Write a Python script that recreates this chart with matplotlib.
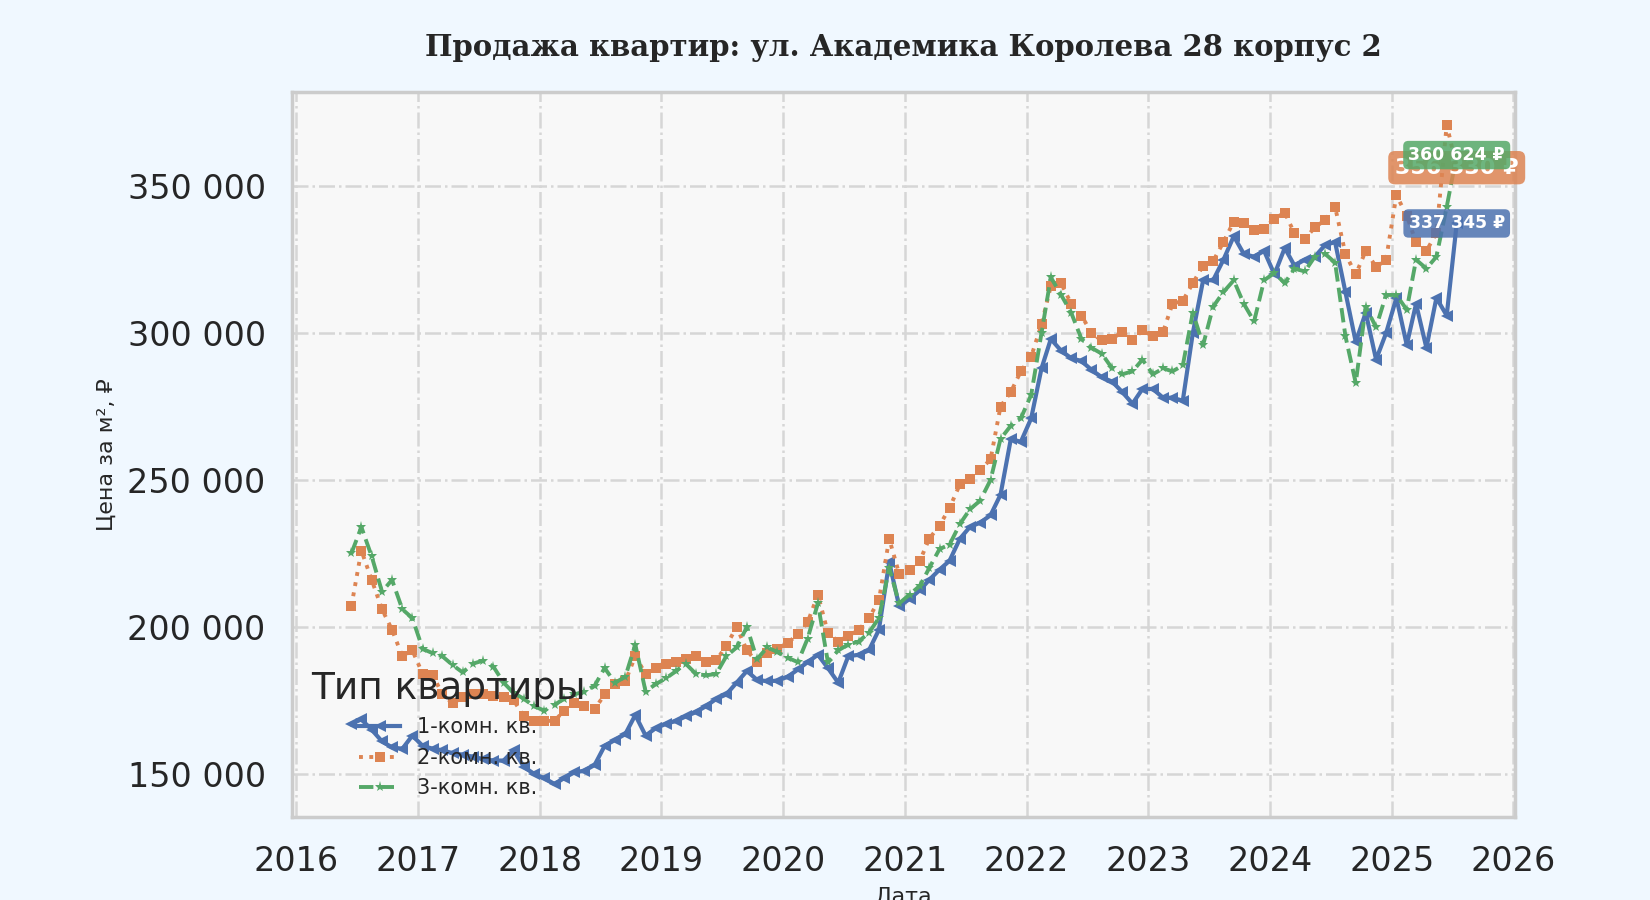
import numpy as np
import pandas as pd
import matplotlib
matplotlib.use("Agg")
import matplotlib.pyplot as plt
import matplotlib.dates as mdates
from matplotlib.ticker import MultipleLocator, FuncFormatter

# ---------------- data (price per m², thousands of rubles, monthly) ----------------
months = pd.date_range("2016-06-01", "2025-07-01", freq="MS") + pd.Timedelta(days=14)

room1 = [
    167, 168.5, 165, 161, 159, 158.5, 163,
    159.5, 158.5, 158, 157, 156.5, 155.8, 155, 154.5, 154.5, 158, 152.3, 150,
    148.5, 146.5, 148.5, 150.5, 151, 153, 159.5, 161.5, 163.5, 170, 163, 165.5,
    167, 168, 169.5, 171, 173, 175.5, 177, 181, 185, 182, 181.5, 181.7,
    183, 185.5, 188, 190.5, 186, 181, 190, 190.5, 192, 199, 222, 207,
    209.5, 212.5, 216, 219.5, 222.5, 230, 234, 235.5, 238, 245, 264, 263,
    271, 288, 298, 294, 291.5, 290.5, 287.5, 285, 283.5, 280, 276, 281,
    281, 278, 278, 277, 300, 318, 318, 325, 333, 327, 326, 328,
    320, 329, 323, 325, 326, 330, 331, 314, 297, 307, 291, 300,
    312, 296, 310, 295, 312, 306, 337.345,
]
room2 = [
    207, 226, 216, 206, 199, 190, 192,
    184, 183.5, 177, 174, 176, 177, 177, 176.5, 176, 175, 169.5, 168,
    168, 168, 171.5, 174, 173, 172, 177, 180.5, 181.5, 190, 184, 186,
    187.5, 188, 189, 190, 188, 188.6, 193.5, 200, 192, 188, 191, 192.5,
    194.5, 197.5, 201.5, 211, 198, 195, 197, 198.9, 203, 209, 230, 218,
    219.5, 222.5, 230, 234.5, 240.5, 248.5, 250.5, 253.5, 257, 275, 280, 287,
    292, 303, 316, 317, 310, 306, 300, 297.5, 298, 300.5, 297.5, 301,
    299, 300.5, 310, 311, 317, 323, 324.5, 331, 338, 337.5, 335, 335.5,
    339, 341, 334, 332, 336, 338.5, 343, 327, 320, 328, 322.5, 325,
    347, 340, 331, 328, 334, 371, 356.33,
]
room3 = [
    225, 234, 224, 212, 216, 206, 203,
    192.5, 191, 190, 187, 184.5, 187.5, 188.5, 186.5, 181, 177.5, 175.5, 173,
    171.5, 173.5, 175.5, 177, 178, 180, 186, 181, 183, 194, 178, 180.5,
    182.5, 185, 187.5, 184, 183.5, 184, 190, 193, 200, 189, 193, 191.5,
    189.5, 188, 196, 208, 188, 192, 194, 195, 198, 203, 220, 208,
    211, 214, 220, 226.5, 228, 235, 240, 243, 250, 264, 268.5, 271,
    279, 300, 319, 313, 307, 298, 295, 293, 288, 286, 287, 291,
    286, 288, 287, 289, 307, 296, 309, 314, 318, 310, 304, 318,
    320.5, 317, 322, 321, 326, 327, 324, 299, 283, 309, 302, 313,
    313, 308, 325, 322, 326, 343, 360.624,
]
series_labels = ["1-комн. кв.", "2-комн. кв.", "3-комн. кв."]
colors = ["#4C72B0", "#DD8452", "#55A868"]

# ---------------- figure ----------------
fig = plt.figure(figsize=(16.5, 9), dpi=100, facecolor="#F0F8FF")
ax = fig.add_axes([0.177, 0.0922, 0.741, 0.806])
ax.set_facecolor("#F8F8F8")

styles = [
    dict(ls="-", marker="<", ms=8, lw=3),
    dict(ls=":", marker="s", ms=7.5, lw=2.8),
    dict(ls="--", marker="*", ms=8, lw=2.8),
]
all_vals = [room1, room2, room3]
for vals, lab, col, st in zip(all_vals, series_labels, colors, styles):
    v = np.array(vals) * 1000
    ax.plot(months, v, color=col, label=lab, mew=0, **st)

# end-value labels
font_sizes = [12.5, 16, 12.5]
for vals, col, fs in zip(all_vals, colors, font_sizes):
    last = vals[-1] * 1000
    txt = f"{int(round(last)):,}".replace(",", " ") + " ₽"
    ax.text(months[-1], last, txt, ha="center", va="center", color="white",
            fontweight="bold", fontsize=fs, zorder=6,
            bbox=dict(boxstyle="round,pad=0.3", fc=col, ec="none", alpha=0.85))

# axes styling
ax.grid(True, ls="-.", color="#d6d6d6", lw=1.8)
ax.set_axisbelow(True)
for sp in ax.spines.values():
    sp.set_color("#cccccc")
    sp.set_linewidth(2.5)

ax.set_xlim(pd.Timestamp("2015-12-20"), pd.Timestamp("2026-01-05"))
ax.xaxis.set_major_locator(mdates.YearLocator())
ax.xaxis.set_major_formatter(mdates.DateFormatter("%Y"))
ax.yaxis.set_major_locator(MultipleLocator(50000))
ax.yaxis.set_major_formatter(FuncFormatter(lambda v, p: f"{int(v):,}".replace(",", " ")))
ax.tick_params(axis="both", length=0, labelsize=24, colors="#262626")
ax.tick_params(axis="x", pad=20)
ax.tick_params(axis="y", pad=19)

ax.set_title("Продажа квартир: ул. Академика Королева 28 корпус 2",
             fontfamily="DejaVu Serif", fontweight="bold", fontsize=21,
             color="#262626", pad=26)
ax.set_xlabel("Дата", fontsize=16, color="#262626", labelpad=6)
ax.set_ylabel("Цена за м², ₽", fontsize=16, color="#262626", labelpad=8)

leg = ax.legend(title="Тип квартиры", loc="lower left", fontsize=15,
                title_fontsize=27, frameon=False)
for t in leg.get_texts():
    t.set_color("#262626")
leg.get_title().set_color("#262626")

fig.savefig("out.png", dpi=100, facecolor=fig.get_facecolor())
